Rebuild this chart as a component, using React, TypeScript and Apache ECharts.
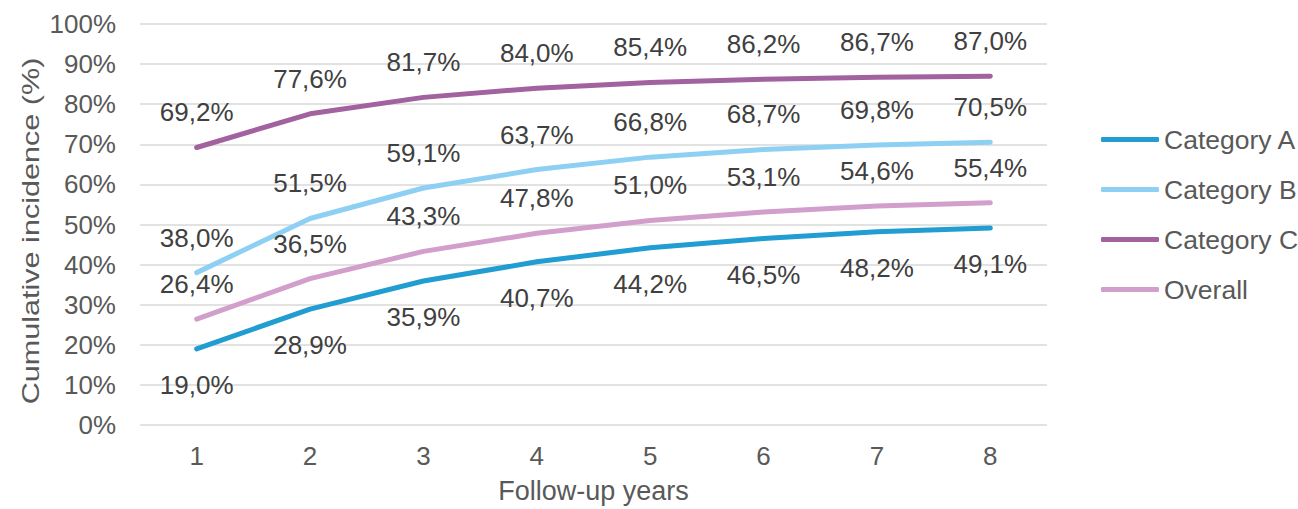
import React, { useEffect, useRef } from "react";
import * as echarts from "echarts";

const years = ["1", "2", "3", "4", "5", "6", "7", "8"];
const seriesNames = ["Category A", "Category B", "Category C", "Overall"];
const categoryA = [19.0, 28.9, 35.9, 40.7, 44.2, 46.5, 48.2, 49.1];
const categoryB = [38.0, 51.5, 59.1, 63.7, 66.8, 68.7, 69.8, 70.5];
const categoryC = [69.2, 77.6, 81.7, 84.0, 85.4, 86.2, 86.7, 87.0];
const overall = [26.4, 36.5, 43.3, 47.8, 51.0, 53.1, 54.6, 55.4];
const colors = ["#219DD2", "#8DD0F4", "#A2619F", "#D29ECC"];
const labelPositions = ["bottom", "top", "top", "top"];
const yTitle = "Cumulative incidence (%)";
const xTitle = "Follow-up years";

const FONT = "'Liberation Sans', Arial, sans-serif";

export default function App() {
  const ref = useRef<HTMLDivElement>(null);
  useEffect(() => {
    if (!ref.current) return;
    const chart = echarts.init(ref.current, null, { renderer: "svg" });
    const all = [categoryA, categoryB, categoryC, overall];
    chart.setOption({
      animation: false,
      backgroundColor: "#ffffff",
      textStyle: { fontFamily: FONT },
      grid: { left: 140, right: 251, top: 24, bottom: 84 },
      legend: {
        orient: "vertical",
        left: 1096,
        top: 121,
        itemGap: 23,
        itemWidth: 58,
        itemHeight: 5,
        icon: "roundRect",
        data: seriesNames,
        textStyle: { fontSize: 26.5, lineHeight: 27, color: "#595959", fontFamily: FONT },
      },
      graphic: [
        {
          type: "text",
          x: 31,
          y: 231,
          rotation: Math.PI / 2,
          scaleX: 1.33,
          style: {
            text: yTitle,
            fontSize: 23,
            fontFamily: FONT,
            fill: "#595959",
            align: "center",
            verticalAlign: "middle",
          },
        },
      ],
      xAxis: {
        type: "category",
        data: years,
        boundaryGap: true,
        axisLine: { show: false },
        axisTick: { show: false },
        axisLabel: { fontSize: 26, color: "#595959", margin: 18, fontFamily: FONT },
        name: xTitle,
        nameLocation: "middle",
        nameGap: 52,
        nameTextStyle: { fontSize: 27, color: "#595959", fontFamily: FONT, verticalAlign: "top" },
      },
      yAxis: {
        type: "value",
        min: 0,
        max: 100,
        interval: 10,
        axisLine: { show: false },
        axisTick: { show: false },
        splitLine: { lineStyle: { color: "#D9D9D9", width: 1.5 } },
        axisLabel: { fontSize: 26, color: "#595959", margin: 24, formatter: "{value}%", fontFamily: FONT },
      },
      series: seriesNames.map((name, i) => ({
        name,
        type: "line",
        data: all[i],
        symbol: "circle",
        symbolSize: 0.1,
        showSymbol: true,
        itemStyle: { color: colors[i] },
        lineStyle: { color: colors[i], width: 5, cap: "round", join: "round" },
        label: {
          show: true,
          position: labelPositions[i],
          distance: labelPositions[i] === "bottom" ? 23 : 22,
          fontSize: 26,
          color: "#404040",
          fontFamily: FONT,
          formatter: (p: any) => p.value.toFixed(1).replace(".", ",") + "%",
        },
      })),
    });
    return () => chart.dispose();
  }, []);
  return (
    <div
      ref={ref}
      style={{ position: "fixed", left: 0, top: 0, width: 1298, height: 509, background: "#fff" }}
    />
  );
}
